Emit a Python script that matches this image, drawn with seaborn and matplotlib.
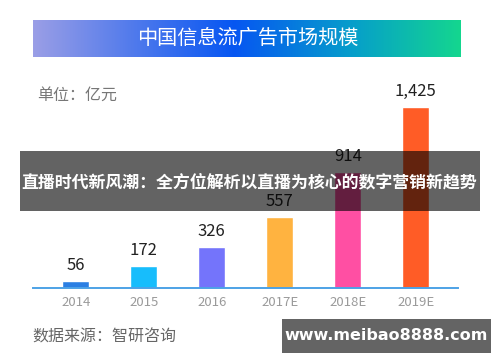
import numpy as np
import pandas as pd
import seaborn as sns
import matplotlib.pyplot as plt
from matplotlib.patches import Rectangle
from matplotlib.colors import LinearSegmentedColormap

# data
years = ['2014', '2015', '2016', '2017E', '2018E', '2019E']
values = [56, 172, 326, 557, 914, 1425]
labels = ['56', '172', '326', '557', '914', '1,425']
bar_colors = ['#2b7fe3', '#17bdfc', '#7474fb', '#ffb340', '#ff4fa3', '#ff5c26']

title = '中国信息流广告市场规模'
unit = '单位：亿元'
source = '数据来源：智研咨询'
overlay = '直播时代新风潮：全方位解析以直播为核心的数字营销新趋势'
watermark = 'www.meibao8888.com'

sns.set_style('white')
plt.rcParams['font.family'] = ['Noto Sans CJK SC', 'DejaVu Sans']

W, H = 500, 362
fig = plt.figure(figsize=(5, 3.62), dpi=100)
fig.patch.set_facecolor('white')

def fx(px):
    return px / W

def fy(py):
    return 1 - py / H

# main bar axes
ax = fig.add_axes([fx(33), fy(288), fx(458) - fx(33), (288 - 88) / H])
df = pd.DataFrame({'year': years, 'value': values})
sns.barplot(data=df, x='year', y='value', hue='year', palette=bar_colors,
            width=0.4, legend=False, ax=ax, saturation=1)
ax.set_xlim(-0.63, 5.62)
ax.set_ylim(0, 1575)
for s in ['top', 'right', 'left']:
    ax.spines[s].set_visible(False)
ax.spines['bottom'].set_color('#4da2e6')
ax.spines['bottom'].set_linewidth(1.4)
ax.set_yticks([])
ax.set_xlabel('')
ax.set_ylabel('')
ax.tick_params(axis='x', length=0, pad=6, labelsize=9.5, labelcolor='#9a9a9a')
for i, (v, lab) in enumerate(zip(values, labels)):
    ax.annotate(lab, (i, v), xytext=(0, 5), textcoords='offset points',
                ha='center', va='bottom', fontsize=12, color='#222222')

# gradient title banner
bax = fig.add_axes([fx(33), fy(57), fx(460) - fx(33), (57 - 20) / H])
cmap = LinearSegmentedColormap.from_list(
    'banner', [(0, '#9a9ee6'), (0.47, '#0656f2'), (0.75, '#069fca'), (1, '#14d68f')])
bax.imshow(np.linspace(0, 1, 256)[None, :], aspect='auto', cmap=cmap,
           extent=[0, 1, 0, 1])
bax.set_axis_off()
fig.text(fx(248), fy(38), title, ha='center', va='center', fontsize=14.5,
         color='white')

fig.text(fx(37), fy(95), unit, ha='left', va='center', fontsize=11.5,
         color='#777777')
fig.text(fx(32), fy(337), source, ha='left', va='center', fontsize=11.5,
         color='#666666')

# overlay band
fig.add_artist(Rectangle((fx(20), fy(211)), fx(480) - fx(20), (211 - 151) / H,
                         transform=fig.transFigure, facecolor='black',
                         alpha=0.61, edgecolor='none', zorder=10))
fig.text(fx(249), fy(182), overlay, ha='center', va='center', fontsize=12.2,
         fontweight='bold', color='white', zorder=11)

# watermark box
fig.add_artist(Rectangle((fx(282), fy(353)), fx(491) - fx(282), (353 - 319) / H,
                         transform=fig.transFigure, facecolor='#646464',
                         edgecolor='none', zorder=10))
fig.text(fx(386), fy(336), watermark, ha='center', va='center', fontsize=11.5,
         fontweight='bold', color='white', zorder=11,
         family=['DejaVu Sans'])

fig.savefig('out.png', dpi=100)
